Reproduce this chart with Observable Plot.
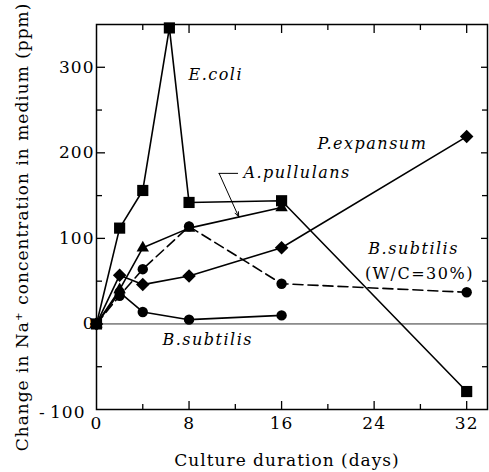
<!DOCTYPE html>
<html>
<head>
<meta charset="utf-8">
<script src="https://cdn.jsdelivr.net/npm/d3@7"></script>
<script src="https://cdn.jsdelivr.net/npm/@observablehq/plot@0.6"></script>
<style>
  html, body { margin: 0; padding: 0; background: #fff; }
  #chart svg { display: block; }
  .series-label text { letter-spacing: 1.5px; }
  .tick-label text, .axis-title text { letter-spacing: 1px; }
</style>
</head>
<body>
<div id="chart"></div>
<script>
// Change in Na+ concentration (ppm) over culture duration (days), per organism
const ecoliDays = [0, 2, 4, 6.3, 8, 16, 32];
const ecoliNa = [0, 112, 156, 346, 142, 144, -79];

const pullulansDays = [0, 2, 4, 8, 16];
const pullulansNa = [0, 40, 89, 112, 136];

const subtilisDays = [0, 2, 4, 8, 16];
const subtilisNa = [0, 37, 14, 5, 10];

const subtilisWcDays = [0, 2, 4, 8, 16, 32];
const subtilisWcNa = [0, 33, 64, 114, 47, 37];

const expansumDays = [0, 2, 4, 8, 16, 32];
const expansumNa = [0, 57, 46, 56, 89, 219];

// Axis ticks and labels
const xMajorTicks = [8, 16, 24, 32];
const xMinorTicks = [4, 12, 20, 28];
const xTickLabels = [0, 8, 16, 24, 32];
const yMajorTicks = [100, 200, 300];
const yMinorTicks = [-50, 50, 150, 250];
const yTickValues = [0, 100, 200, 300];
const yTickLabels = ["0", "100", "200", "300"];
const yBottomValue = [-100];
const yBottomLabel = "-\u2009100";

// In-plot series names (italic) and their anchor points in data units
const seriesNames = ["E.coli", "P.expansum", "A.pullulans", "B.subtilis", "B.subtilis"];
const seriesNameDays = [7.95, 19.1, 12.7, 23.5, 5.7];
const seriesNameNa = [291, 211, 176, 88, -19];
const wcNote = ["(W/C=30%)"];
const wcNoteDay = 23.2;
const wcNoteNa = 59;

// Leader from the A.pullulans name to its curve
const leaderPath = [[12.2, 176], [10.6, 176]];
const leaderArrow = [[10.6, 176, 12.3, 125]];

const xTitle = "Culture duration (days)";
const yTitle = "Change in Na\u207A concentration in medium (ppm)";

const table = (days, values) => days.map((day, i) => ({day, na: values[i]}));
const ecoli = table(ecoliDays, ecoliNa);
const pullulans = table(pullulansDays, pullulansNa);
const subtilis = table(subtilisDays, subtilisNa);
const subtilisWc = table(subtilisWcDays, subtilisWcNa);
const expansum = table(expansumDays, expansumNa);
const names = seriesNames.map((name, i) => ({name, day: seriesNameDays[i], na: seriesNameNa[i]}));
const yLabelOf = new Map(yTickValues.map((v, i) => [v, yTickLabels[i]]));

const lineStyle = {x: "day", y: "na", stroke: "black", strokeWidth: 1.6};

const plot = Plot.plot({
  width: 489,
  height: 472,
  marginLeft: 96,
  marginRight: 2,
  marginTop: 24,
  marginBottom: 63,
  style: {fontFamily: "'DejaVu Serif', serif", fontSize: "17px", background: "#fff", color: "#000"},
  x: {domain: [0, 33.8], label: null},
  y: {domain: [-100, 350], label: null},
  marks: [
    Plot.ruleY([0], {stroke: "#333", strokeWidth: 1}),

    Plot.line(subtilisWc, {...lineStyle, strokeDasharray: "10,5"}),
    Plot.line(subtilis, lineStyle),
    Plot.line(expansum, lineStyle),
    Plot.line(pullulans, lineStyle),
    Plot.line(ecoli, lineStyle),

    Plot.dot(subtilisWc, {x: "day", y: "na", symbol: "circle", r: 5.2, fill: "black"}),
    Plot.dot(subtilis, {x: "day", y: "na", symbol: "circle", r: 5.2, fill: "black"}),
    Plot.dot(expansum, {x: "day", y: "na", symbol: "square", rotate: 45, r: 5.4, fill: "black"}),
    Plot.dot(pullulans, {x: "day", y: "na", symbol: "triangle", r: 4.6, fill: "black"}),
    Plot.dot(ecoli, {x: "day", y: "na", symbol: "square", r: 6.3, fill: "black"}),

    Plot.frame({stroke: "black", strokeWidth: 1.5}),

    // inward ticks on all four sides
    Plot.axisX(xMajorTicks, {anchor: "bottom", tickSize: -8, text: null, label: null, strokeWidth: 1.3}),
    Plot.axisX(xMinorTicks, {anchor: "bottom", tickSize: -5, text: null, label: null, strokeWidth: 1.3}),
    Plot.axisX(xMajorTicks, {anchor: "top", tickSize: -8, text: null, label: null, strokeWidth: 1.3}),
    Plot.axisX(xMinorTicks, {anchor: "top", tickSize: -5, text: null, label: null, strokeWidth: 1.3}),
    Plot.axisY(yMajorTicks, {anchor: "left", tickSize: -9, text: null, label: null, strokeWidth: 1.3}),
    Plot.axisY(yMinorTicks, {anchor: "left", tickSize: -6, text: null, label: null, strokeWidth: 1.3}),
    Plot.axisY(yMajorTicks, {anchor: "right", tickSize: -7, text: null, label: null, strokeWidth: 1.3}),
    Plot.axisY(yMinorTicks, {anchor: "right", tickSize: -6, text: null, label: null, strokeWidth: 1.3}),

    // tick labels
    Plot.axisX(xTickLabels, {anchor: "bottom", tickSize: 0, tickPadding: 7, label: null, fontSize: 17, className: "tick-label"}),
    Plot.axisY(yTickValues, {anchor: "left", tickSize: 0, tickPadding: 2, label: null, fontSize: 17,
      tickFormat: (d) => yLabelOf.get(d), className: "tick-label"}),
    Plot.axisY(yBottomValue, {anchor: "left", tickSize: 0, tickPadding: 11, dy: 3, label: null, fontSize: 17,
      tickFormat: () => yBottomLabel, className: "tick-label"}),

    // axis titles
    Plot.text([xTitle], {frameAnchor: "bottom", textAnchor: "middle", lineAnchor: "middle",
      dx: -5, dy: 51, fontSize: 17, className: "axis-title"}),
    Plot.text([yTitle], {frameAnchor: "left", textAnchor: "middle", lineAnchor: "middle", rotate: -90,
      dx: -74, dy: 10, fontSize: 17, className: "axis-title"}),

    // series names
    Plot.text(names, {x: "day", y: "na", text: "name", textAnchor: "start", fontStyle: "italic",
      fontSize: 16, className: "series-label"}),
    Plot.text(wcNote, {x: () => wcNoteDay, y: () => wcNoteNa, textAnchor: "start", fontSize: 16, className: "series-label"}),

    // leader with arrow to the A.pullulans curve
    Plot.line(leaderPath, {x: (d) => d[0], y: (d) => d[1], stroke: "black", strokeWidth: 1}),
    Plot.arrow(leaderArrow, {x1: (d) => d[0], y1: (d) => d[1], x2: (d) => d[2], y2: (d) => d[3],
      stroke: "black", strokeWidth: 1, headLength: 8, headAngle: 40})
  ]
});

document.getElementById("chart").append(plot);
</script>
</body>
</html>
